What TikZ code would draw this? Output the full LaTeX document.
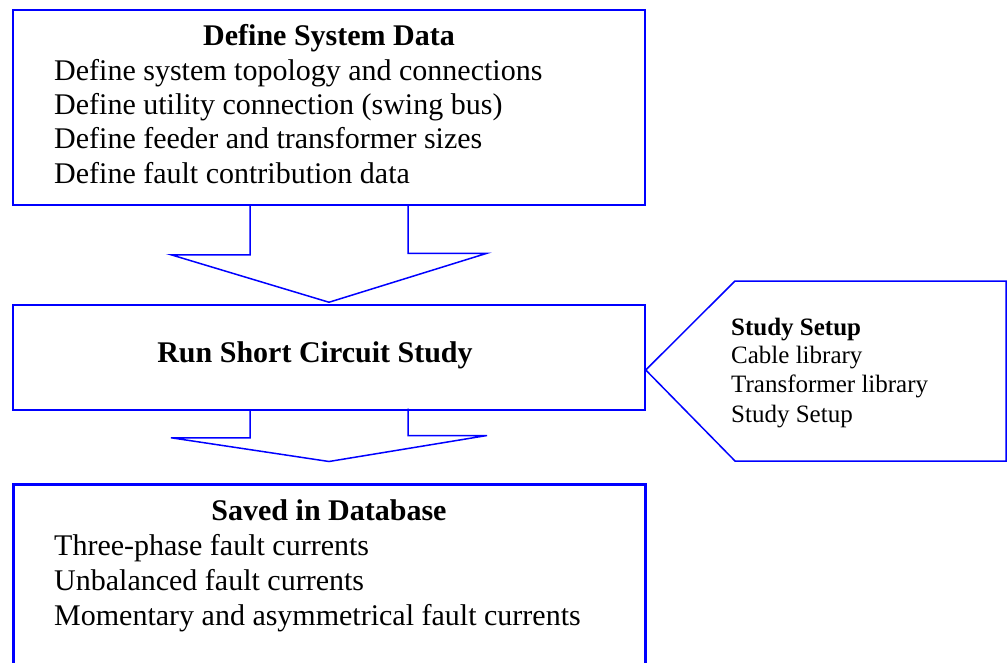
\documentclass[tikz,border=0pt]{standalone}
\usepackage{fontspec}
\setmainfont{Liberation Serif}
\definecolor{flowblue}{RGB}{0,0,255}
\tikzset{
  box/.style={draw=flowblue, line width=1.5pt, inner sep=0pt},
  dbbox/.style={box, line width=3pt},
  blockarrow/.style={draw=flowblue, line width=1.5pt, line join=miter},
  head/.style={font=\fontsize{30}{34}\selectfont\bfseries, anchor=base, inner sep=0pt},
  item/.style={font=\fontsize{30}{34}\selectfont, anchor=base west, inner sep=0pt},
  notehead/.style={font=\fontsize{25}{29}\selectfont\bfseries, anchor=base west, inner sep=0pt},
  noteitem/.style={font=\fontsize{25}{29}\selectfont, anchor=base west, inner sep=0pt},
}
\begin{document}
\begin{tikzpicture}[x=1pt,y=-1pt]
  \useasboundingbox (0,0) rectangle (1008,663);

  % the three process boxes
  \node[box, minimum width=632pt, minimum height=195pt] (sys) at (329,107.5) {};
  \node[box, minimum width=632pt, minimum height=105pt] (sc) at (329,357.5) {};
  \node[dbbox, minimum width=632pt, minimum height=180pt] (db) at (329,574) {};

  % box texts
  \node[head] (systitle) at (329,46) {Define System Data};
  \node[item] (sys1) at (54,80.7) {Define system topology and connections};
  \node[item] (sys2) at (54,115) {Define utility connection (swing bus)};
  \node[item] (sys3) at (54,149) {Define feeder and transformer sizes};
  \node[item] (sys4) at (54,183) {Define fault contribution data};

  \node[head] (sctitle) at (315,362.7) {Run Short Circuit Study};

  \node[head] (dbtitle) at (329,520) {Saved in Database};
  \node[item] (db1) at (54,555) {Three-phase fault currents};
  \node[item] (db2) at (54,590) {Unbalanced fault currents};
  \node[item] (db3) at (54,625) {Momentary and asymmetrical fault currents};

  % block arrows between the boxes
  \draw[blockarrow] ([xshift=-79pt]sys.south) -- ++(0,49) -- ++(-79,0)
    -- ([yshift=2pt]sc.north) -- ++(158,-49) -- ++(-79,0) -- ++(0,-49);
  \draw[blockarrow] ([xshift=-79pt]sc.south) -- ++(0,27) -- ++(-79,0)
    -- ([yshift=21pt]db.north) -- ++(158,-26) -- ++(-79,0) -- ++(0,-27);

  % study setup callout attached to the short circuit box
  \coordinate (calltip) at ([yshift=-12.5pt]sc.east);
  \draw[box, line join=miter] (calltip) -- (735,281) -- (1006,281) -- (1006,461) -- (735,461) -- cycle;
  \node[notehead] (setuptitle) at (731,335) {Study Setup};
  \node[noteitem] (setup1) at (731,363) {Cable library};
  \node[noteitem] (setup2) at (731,392) {Transformer library};
  \node[noteitem] (setup3) at (731,422) {Study Setup};
\end{tikzpicture}
\end{document}
